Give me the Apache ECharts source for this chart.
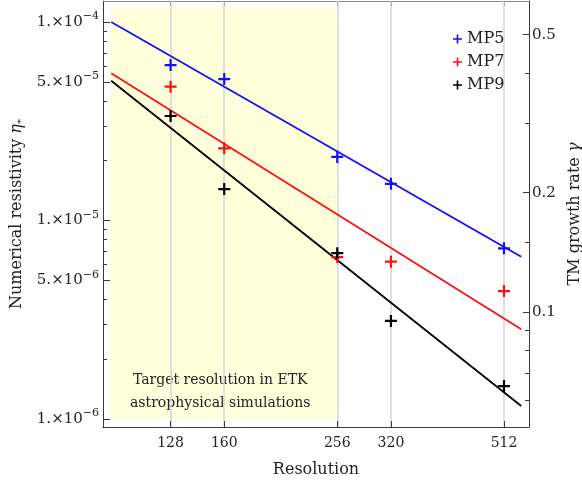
<!DOCTYPE html>
<html>
<head>
<meta charset="utf-8">
<script src="https://cdn.jsdelivr.net/npm/echarts@6/dist/echarts.min.js"></script>
<style>
html, body { margin: 0; padding: 0; background: #ffffff; }
#chart { width: 582px; height: 484px; }
</style>
</head>
<body>
<div id="chart"></div>
<script>
// Grid resolutions and measured numerical resistivity for each stencil order
const resolutions = [128, 160, 256, 320, 512];
const mp5 = [6.07e-5, 5.16e-5, 2.09e-5, 1.53e-5, 7.24e-6];
const mp7 = [4.72e-5, 2.31e-5, 6.53e-6, 6.2e-6, 4.41e-6];
const mp9 = [3.36e-5, 1.44e-5, 6.84e-6, 3.12e-6, 1.465e-6];

// Power-law fits, given at both ends of the fitted range
const fitRange = [100, 550];
const fit5 = [1.0e-4, 6.57e-6];
const fit7 = [5.515e-5, 2.83e-6];
const fit9 = [5.06e-5, 1.163e-6];

// Shaded band of production resolutions
const targetRange = [100, 256];
const targetEta = [1.0e-6, 1.19e-4];

// Axis ticks
const etaMajor = [1e-6, 5e-6, 1e-5, 5e-5, 1e-4];
const etaMinor = [2e-6, 3e-6, 4e-6, 6e-6, 7e-6, 8e-6, 9e-6,
                  2e-5, 3e-5, 4e-5, 6e-5, 7e-5, 8e-5, 9e-5];
const gammaMajor = [0.1, 0.2, 0.5];
const gammaMinor = [0.06, 0.07, 0.08, 0.09, 0.15, 0.3, 0.4];

const FONT = 'DejaVu Serif';
const PLUS = 'path://M4.9,0h2.2v12h-2.2z M0,4.9h12v2.2h-12z';
const INK = '#222222';
const AXIS = '#3a3a3a';

function pairs(xs, ys) { return xs.map((x, i) => [x, ys[i]]); }

function sciLabel(v) {
  const e = Math.floor(Math.log10(v) + 1e-9);
  const m = Math.round(v / Math.pow(10, e));
  return '{b|' + m + '.×10}{sup|−' + Math.abs(e) + '}';
}

const xRange = { min: 96.65, max: 568.1 };
const etaRange = { min: 9.11e-7, max: 1.276e-4 };
const gammaRange = { min: 0.0514, max: 0.608 };

const chart = echarts.init(document.getElementById('chart'), null, { renderer: 'canvas' });

const option = {
  animation: false,
  backgroundColor: '#ffffff',
  textStyle: { fontFamily: FONT },
  grid: { left: 103, right: 53, top: 1, bottom: 57, containLabel: false, outerBoundsMode: 'none' },
  legend: {
    data: ['MP5', 'MP7', 'MP9'],
    orient: 'vertical',
    left: 448,
    top: 26,
    itemWidth: 9,
    itemHeight: 9,
    itemGap: 7,
    itemTextGap: 12,
    icon: PLUS,
    itemStyle: { opacity: 1 },
    textStyle: { fontFamily: FONT, fontSize: 16, color: INK, lineHeight: 16 }
  },
  xAxis: [
    {
      type: 'log', logBase: 2, position: 'bottom', z: 1,
      min: xRange.min, max: xRange.max,
      axisLine: { show: true, onZero: false, lineStyle: { color: AXIS, width: 1 } },
      axisTick: { show: true, inside: true, length: 6, customValues: resolutions, lineStyle: { color: AXIS } },
      axisLabel: { show: true, customValues: resolutions, formatter: v => String(Math.round(v)),
                   fontFamily: FONT, fontSize: 14, color: INK, margin: 9 },
      splitLine: { show: true, lineStyle: { color: '#d6d6d6', width: 1.5 } },
      minorTick: { show: false },
      name: 'Resolution', nameLocation: 'middle', nameGap: 35,
      nameTextStyle: { fontFamily: FONT, fontSize: 16, color: INK }
    },
    {
      type: 'log', logBase: 2, position: 'top',
      min: xRange.min, max: xRange.max,
      axisLine: { show: true, onZero: false, lineStyle: { color: '#8a8a8a', width: 1 } },
      axisTick: { show: true, inside: true, length: 5, customValues: resolutions, lineStyle: { color: AXIS } },
      axisLabel: { show: false },
      splitLine: { show: false }
    }
  ],
  yAxis: [
    {
      type: 'log', logBase: 10, position: 'left',
      min: etaRange.min, max: etaRange.max,
      axisLine: { show: true, onZero: false, lineStyle: { color: AXIS, width: 1 } },
      axisTick: { show: true, inside: true, length: 7, customValues: etaMajor, lineStyle: { color: AXIS } },
      axisLabel: {
        show: true, customValues: etaMajor, formatter: sciLabel, margin: 4, color: INK,
        rich: {
          b: { fontFamily: FONT, fontSize: 15, color: INK, lineHeight: 22 },
          sup: { fontFamily: FONT, fontSize: 11, color: INK, verticalAlign: 'top', lineHeight: 11 }
        }
      },
      splitLine: { show: false },
      name: 'Numerical resistivity {i|η}{s|*}', nameLocation: 'middle', nameGap: 76, nameRotate: 90,
      nameTextStyle: {
        fontFamily: FONT, fontSize: 16, color: INK,
        rich: {
          i: { fontFamily: FONT, fontSize: 16, fontStyle: 'italic', color: INK },
          s: { fontFamily: FONT, fontSize: 10, color: INK, verticalAlign: 'bottom', lineHeight: 18 }
        }
      }
    },
    {
      type: 'log', logBase: 10, position: 'left',
      min: etaRange.min, max: etaRange.max,
      axisLine: { show: false, onZero: false },
      axisTick: { show: true, inside: true, length: 4, customValues: etaMinor, lineStyle: { color: AXIS } },
      axisLabel: { show: false },
      splitLine: { show: false }
    },
    {
      type: 'log', logBase: 10, position: 'right',
      min: gammaRange.min, max: gammaRange.max,
      axisLine: { show: true, onZero: false, lineStyle: { color: AXIS, width: 1 } },
      axisTick: { show: true, inside: true, length: 6, customValues: gammaMajor, lineStyle: { color: AXIS } },
      axisLabel: { show: true, customValues: gammaMajor, formatter: v => String(v),
                   fontFamily: FONT, fontSize: 15, color: INK, margin: 3 },
      splitLine: { show: false },
      name: 'TM growth rate {i|γ}', nameLocation: 'middle', nameGap: 37, nameRotate: 90,
      nameTextStyle: {
        fontFamily: FONT, fontSize: 16, color: INK,
        rich: { i: { fontFamily: FONT, fontSize: 16, fontStyle: 'italic', color: INK } }
      }
    },
    {
      type: 'log', logBase: 10, position: 'right',
      min: gammaRange.min, max: gammaRange.max,
      axisLine: { show: false, onZero: false },
      axisTick: { show: true, inside: true, length: 4, customValues: gammaMinor, lineStyle: { color: AXIS } },
      axisLabel: { show: false },
      splitLine: { show: false }
    }
  ],
  series: [
    {
      name: 'target', type: 'line', xAxisIndex: 0, yAxisIndex: 0, z: 0,
      data: [], silent: true,
      markArea: {
        silent: true,
        z: 0,
        itemStyle: { color: '#ffffdc' },
        label: {
          show: true, position: 'insideBottom', distance: 4, offset: [-4, 0],
          fontFamily: FONT, fontSize: 14, lineHeight: 23, color: INK, align: 'center',
          formatter: 'Target resolution in ETK\nastrophysical simulations'
        },
        data: [[
          { coord: [targetRange[0], targetEta[1]] },
          { coord: [targetRange[1], targetEta[0]] }
        ]]
      }
    },
    { name: 'MP5 fit', type: 'line', xAxisIndex: 0, yAxisIndex: 0, z: 2, showSymbol: false, silent: true,
      data: pairs(fitRange, fit5), lineStyle: { color: '#1010ff', width: 1.8 } },
    { name: 'MP7 fit', type: 'line', xAxisIndex: 0, yAxisIndex: 0, z: 2, showSymbol: false, silent: true,
      data: pairs(fitRange, fit7), lineStyle: { color: '#ff1010', width: 1.8 } },
    { name: 'MP9 fit', type: 'line', xAxisIndex: 0, yAxisIndex: 0, z: 2, showSymbol: false, silent: true,
      data: pairs(fitRange, fit9), lineStyle: { color: '#000000', width: 1.8 } },
    { name: 'MP5', type: 'scatter', xAxisIndex: 0, yAxisIndex: 0, z: 3, symbol: PLUS, symbolSize: 12,
      data: pairs(resolutions, mp5), itemStyle: { color: '#1010ff', opacity: 1 } },
    { name: 'MP7', type: 'scatter', xAxisIndex: 0, yAxisIndex: 0, z: 3, symbol: PLUS, symbolSize: 12,
      data: pairs(resolutions, mp7), itemStyle: { color: '#ff1010', opacity: 1 } },
    { name: 'MP9', type: 'scatter', xAxisIndex: 0, yAxisIndex: 0, z: 3, symbol: PLUS, symbolSize: 12,
      data: pairs(resolutions, mp9), itemStyle: { color: '#000000', opacity: 1 } }
  ]
};

chart.setOption(option);
</script>
</body>
</html>
